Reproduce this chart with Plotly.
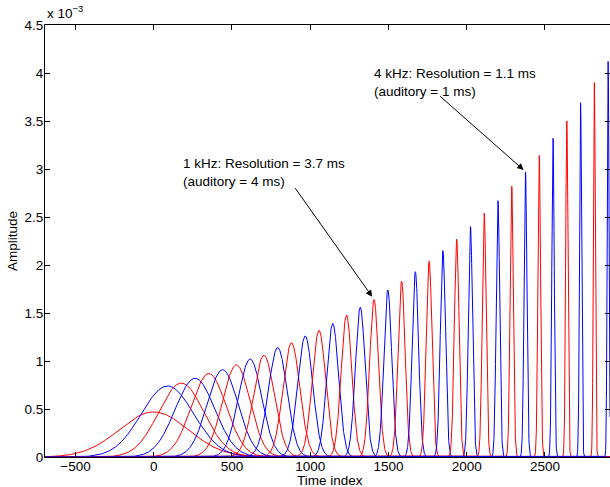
import numpy as np
import plotly.graph_objects as go

# ---- data ----
centers = [0, 88, 176, 264, 352, 440, 528, 616, 704, 792, 880, 968, 1056, 1144,
           1232, 1320, 1408, 1496, 1584, 1672, 1760, 1848, 1936, 2024, 2112,
           2200, 2288, 2376, 2464, 2552, 2640, 2728, 2816, 2904]
amps_e3 = [0.47, 0.74, 0.77, 0.82, 0.87, 0.91, 0.96, 1.02, 1.06, 1.14, 1.19,
           1.26, 1.32, 1.39, 1.48, 1.56, 1.64, 1.74, 1.83, 1.93, 2.04, 2.15,
           2.27, 2.40, 2.54, 2.67, 2.82, 2.97, 3.14, 3.32, 3.50, 3.69, 3.90, 4.12]
widths = [220, 168, 145, 127, 112, 99, 88, 75, 67, 60, 54, 48, 43, 38, 34, 31,
          28, 25, 22.5, 20.5, 18.5, 16.5, 15, 13.5, 12.3, 11.2, 10.2, 9.3, 8.5,
          7.8, 7.2, 6.6, 6.1, 5.6]
colors = ["#ff0000", "#0000ff"]

x_ticks = [-500, 0, 500, 1000, 1500, 2000, 2500]
x_ticktext = ["\u2212500", "0", "500", "1000", "1500", "2000", "2500"]
y_ticks = [0, 0.0005, 0.001, 0.0015, 0.002, 0.0025, 0.003, 0.0035, 0.004, 0.0045]
y_ticktext = ["0", "0.5", "1", "1.5", "2", "2.5", "3", "3.5", "4", "4.5"]

x_min, x_max = -695, 2916
t = np.arange(x_min, x_max + 1, 1.0)

FONT = "Liberation Sans, Arial, Helvetica, sans-serif"
FS = 13.5

fig = go.Figure()
for i, (c, a, w) in enumerate(zip(centers, amps_e3, widths)):
    y = a * 1e-3 * np.exp(-0.5 * ((t - c) / w) ** 2)
    fig.add_trace(go.Scatter(x=t, y=y, mode="lines",
                             line=dict(color=colors[i % 2], width=1),
                             hoverinfo="skip", showlegend=False))

W, H = 610, 487
L, R, T, B = 45, 0, 25, 30
pw, ph = W - L - R, H - T - B

def px2paper(px, py):
    return (px - L) / pw, (H - B - py) / ph

fig.update_layout(
    width=W, height=H,
    margin=dict(l=L, r=R, t=T, b=B),
    paper_bgcolor="white", plot_bgcolor="white",
    font=dict(family=FONT, size=FS, color="black"),
    showlegend=False,
)
fig.update_xaxes(range=[x_min, x_max], tickvals=x_ticks, ticktext=x_ticktext,
                 ticks="inside", ticklen=5, tickcolor="black", tickwidth=1,
                 showline=True, linecolor="black", linewidth=1, mirror="ticks",
                 showgrid=False, zeroline=False, ticklabelstandoff=-3,
                 tickfont=dict(family=FONT, size=FS, color="black"))
fig.update_yaxes(range=[0, 0.0045], tickvals=y_ticks, ticktext=y_ticktext,
                 ticks="inside", ticklen=5, tickcolor="black", tickwidth=1,
                 showline=True, linecolor="black", linewidth=1, mirror="ticks",
                 showgrid=False, zeroline=False, ticklabelstandoff=-2,
                 tickfont=dict(family=FONT, size=FS, color="black"))

ann = []
# axis titles
xx, yy = px2paper(330, 480)
ann.append(dict(text="Time index", x=xx, y=yy, xref="paper", yref="paper",
                xanchor="center", yanchor="middle", showarrow=False,
                font=dict(family=FONT, size=FS)))
xx, yy = px2paper(12, 241)
ann.append(dict(text="Amplitude", x=xx, y=yy, xref="paper", yref="paper",
                xanchor="center", yanchor="middle", textangle=-90, showarrow=False,
                font=dict(family=FONT, size=FS)))
xx, yy = px2paper(45, 23)
ann.append(dict(text="x 10<sup>\u22123</sup>", x=xx, y=yy, xref="paper", yref="paper",
                xanchor="left", yanchor="bottom", showarrow=False,
                font=dict(family=FONT, size=FS)))

# text labels
xx, yy = px2paper(181, 154)
ann.append(dict(text="1 kHz: Resolution = 3.7 ms<br>(auditory = 4 ms)", x=xx, y=yy,
                xref="paper", yref="paper", xanchor="left", yanchor="top",
                align="left", showarrow=False, font=dict(family=FONT, size=FS)))
xx, yy = px2paper(372, 64)
ann.append(dict(text="4 kHz: Resolution = 1.1 ms<br>(auditory = 1 ms)", x=xx, y=yy,
                xref="paper", yref="paper", xanchor="left", yanchor="top",
                align="left", showarrow=False, font=dict(family=FONT, size=FS)))

# arrows pointing at pulse peaks
k1, k2 = 16, 27
ann.append(dict(text="", x=centers[k1] - 12, y=amps_e3[k1] * 1e-3 + 0.00003,
                xref="x", yref="y", showarrow=True, arrowhead=2, arrowsize=1.3,
                arrowwidth=1, arrowcolor="black", ax=-78, ay=-110))
ann.append(dict(text="", x=centers[k2] - 12, y=amps_e3[k2] * 1e-3 + 0.00002,
                xref="x", yref="y", showarrow=True, arrowhead=2, arrowsize=1.3,
                arrowwidth=1, arrowcolor="black", ax=-85, ay=-75))
fig.update_layout(annotations=ann)

fig.write_html("out.html")
